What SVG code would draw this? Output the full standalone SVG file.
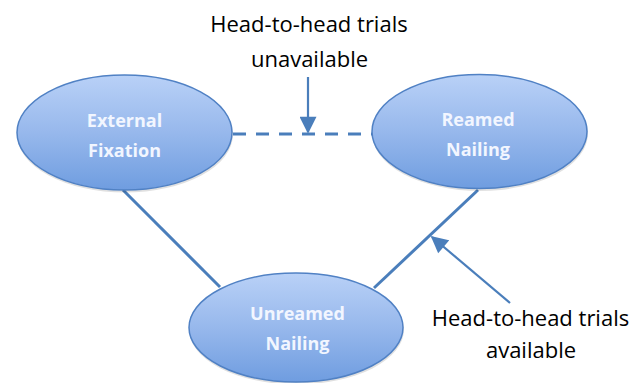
<svg xmlns="http://www.w3.org/2000/svg" width="641" height="383" viewBox="0 0 641 383">
<defs>
<linearGradient id="g" x1="0" y1="0" x2="0" y2="1">
<stop offset="0" stop-color="#b9d1f7"/>
<stop offset="0.5" stop-color="#97b8ec"/>
<stop offset="1" stop-color="#6f9de0"/>
</linearGradient>
<marker id="ah" viewBox="0 0 10 10" refX="9" refY="5" markerWidth="18" markerHeight="17" orient="auto" markerUnits="userSpaceOnUse">
<path d="M0,0 L10,5 L0,10 z" fill="#4a7ebb"/>
</marker>
</defs>
<style>
.shadow{fill:#000;fill-opacity:0.12}
.oval{fill:url(#g);stroke:#5081c4;stroke-width:1.5}
.nt{font-family:"Open Sans","Liberation Sans",sans-serif;font-weight:bold;font-size:18px;fill:#f2f6ff;text-anchor:middle}
.edge{stroke:#4a7ebb;stroke-width:3;fill:none}
.ann{stroke:#4a7ebb;stroke-width:2.2;fill:none;marker-end:url(#ah)}
.lbl{font-family:"Open Sans","Liberation Sans",sans-serif;font-size:22px;fill:#000;text-anchor:middle}
</style>
<rect width="641" height="383" fill="#fff"/>
<g id="connectors">
<line class="edge" x1="233" y1="134" x2="372" y2="134" stroke-dasharray="13 10"/>
<line class="edge" x1="123" y1="190" x2="220" y2="287"/>
<line class="edge" x1="478" y1="190" x2="374" y2="288"/>
<line class="ann" x1="308" y1="77" x2="308" y2="132"/>
<line class="ann" x1="510" y1="303" x2="432" y2="237"/>
</g>
<g id="node-external">
<ellipse class="shadow" cx="125" cy="134.5" rx="108" ry="58"/>
<ellipse class="oval" cx="124.5" cy="132.5" rx="107.5" ry="57.5"/>
<text class="nt" x="124.5" y="127">External</text>
<text class="nt" x="124.5" y="157">Fixation</text>
</g>
<g id="node-reamed">
<ellipse class="shadow" cx="480" cy="133.5" rx="108" ry="57.5"/>
<ellipse class="oval" cx="479.5" cy="131.5" rx="107.5" ry="57"/>
<text class="nt" x="478" y="126">Reamed</text>
<text class="nt" x="478" y="156">Nailing</text>
</g>
<g id="node-unreamed">
<ellipse class="shadow" cx="296.5" cy="329.5" rx="107.5" ry="55"/>
<ellipse class="oval" cx="296" cy="327.5" rx="107" ry="54.5"/>
<text class="nt" x="297.5" y="320">Unreamed</text>
<text class="nt" x="297.5" y="350">Nailing</text>
</g>
<g id="label-unavailable">
<text class="lbl" x="309" y="32">Head-to-head trials</text>
<text class="lbl" x="309.5" y="67">unavailable</text>
</g>
<g id="label-available">
<text class="lbl" x="530.5" y="326">Head-to-head trials</text>
<text class="lbl" x="531" y="358">available</text>
</g>
</svg>
